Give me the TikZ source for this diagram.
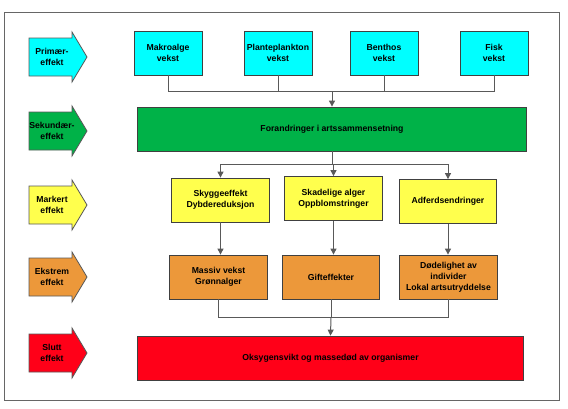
\documentclass[tikz,border=0pt]{standalone}
\usepackage{fontspec}
\setmainfont{Liberation Sans}
\usepackage{tikz}
\usetikzlibrary{arrows.meta}

\definecolor{primcol}{RGB}{0,255,255}
\definecolor{sekcol}{RGB}{0,178,72}
\definecolor{markcol}{RGB}{255,255,77}
\definecolor{ekscol}{RGB}{236,152,58}
\definecolor{sluttcol}{RGB}{255,0,24}

\begin{document}
\begin{tikzpicture}[x=0.75pt, y=-0.75pt,
  font=\fontsize{6.5}{8.2}\selectfont\bfseries,
  box/.style={draw=black!75, line width=0.6pt, align=center, inner sep=1pt, minimum height=33pt},
  link/.style={draw=black!65, line width=0.75pt},
  tip/.style={-{Triangle[length=4.5pt,width=4.5pt]}}]
\def\EffectArrow#1#2#3#4{
\filldraw[draw=black!65, line width=0.6pt, fill=#2] (29,#1-19) -- (72,#1-19) -- (72,#1-25)
  -- (87,#1) -- (72,#1+25) -- (72,#1+19) -- (29,#1+19) -- cycle;
\node[align=center] (#3) at (52,#1) {#4};
}

\useasboundingbox (0,0) rectangle (568,408);
\draw[black!60, line width=0.75pt] (4,12) rectangle (559,400);

\EffectArrow{57}{primcol}{prim}{Primær-\\effekt}
\EffectArrow{131}{sekcol}{sek}{Sekundær-\\effekt}
\EffectArrow{205}{markcol}{mark}{Markert\\effekt}
\EffectArrow{277}{ekscol}{eks}{Ekstrem\\effekt}
\EffectArrow{353}{sluttcol}{slutt}{Slutt\\effekt}

\node[box, fill=primcol, minimum width=51pt] (makro) at (168,53) {Makroalge\\vekst};
\node[box, fill=primcol, minimum width=51pt] (plank) at (278,53) {Planteplankton\\vekst};
\node[box, fill=primcol, minimum width=51pt] (benth) at (384,53) {Benthos\\vekst};
\node[box, fill=primcol, minimum width=51pt] (fisk) at (494,53) {Fisk\\vekst};

\node[box, fill=sekcol, minimum width=292pt] (artsam) at (332,129) {Forandringer i artssammensetning};

\node[box, fill=markcol, minimum width=73pt] (skygge) at (220.5,200) {Skyggeeffekt\\Dybdereduksjon};
\node[box, fill=markcol, minimum width=73pt] (skadelig) at (333.5,198.5) {Skadelige alger\\Oppblomstringer};
\node[box, fill=markcol, minimum width=73pt] (adferd) at (448,201.5) {Adferdsendringer};

\node[box, fill=ekscol, minimum width=73pt] (massiv) at (218.5,277) {Massiv vekst\\Grønnalger};
\node[box, fill=ekscol, minimum width=73pt] (gift) at (331,277) {Gifteffekter};
\node[box, fill=ekscol, minimum width=73pt] (dodelig) at (448.5,277) {Dødelighet av\\individer\\Lokal artsutryddelse};

\node[box, fill=sluttcol, minimum width=290pt] (oksygen) at (330.5,358) {Oksygensvikt og massedød av organismer};

\coordinate (topjn) at (332,91);
\coordinate (midjn) at (332,164);
\coordinate (lowjn) at (331,317);

\foreach \n in {makro,plank,benth,fisk}
  \draw[link] (\n.south) |- (topjn);
\draw[link, tip] (topjn) -- (artsam.north);

\draw[link] (artsam.south) -- (midjn);
\foreach \n in {skygge,skadelig,adferd}
  \draw[link, tip] (midjn) -| (\n.north);

\draw[link, tip] (skygge.south) -- (skygge.south |- massiv.north);
\draw[link, tip] (skadelig.south) -- (skadelig.south |- gift.north);
\draw[link, tip] (adferd.south) -- (adferd.south |- dodelig.north);

\foreach \n in {massiv,gift,dodelig}
  \draw[link] (\n.south) |- (lowjn);
\draw[link, tip] (lowjn) -- (oksygen.north);
\end{tikzpicture}
\end{document}
